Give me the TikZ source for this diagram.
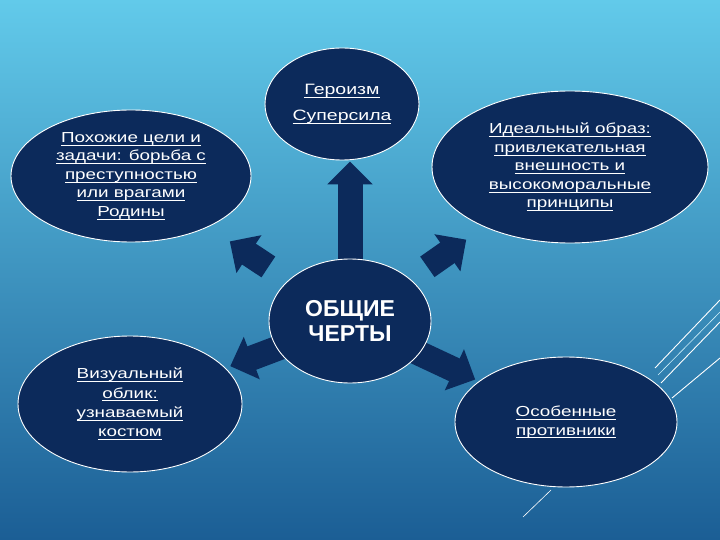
\documentclass[tikz,border=0pt]{standalone}
\usepackage{fontspec}
\setmainfont{Liberation Sans}[FakeStretch=1.3]
\newfontfamily\hubfont{Liberation Sans}
\newcommand\undl[1]{\leavevmode\setbox0\hbox{#1}\rlap{\vrule height -2.2pt depth 3.1pt width \wd0}\box0}
\usetikzlibrary{arrows.meta,shapes.geometric,positioning,backgrounds}
\usepackage{xcolor}
\definecolor{navy}{HTML}{0C2A5B}
\definecolor{skytop}{HTML}{62CAEA}
\definecolor{skymid}{HTML}{3595C8}
\definecolor{skylow}{HTML}{1B5E95}
\definecolor{glint}{HTML}{CFF1FB}
\pgfdeclarelayer{arrowlayer}
\pgfsetlayers{background,arrowlayer,main}
\tikzset{
  bubble/.style={ellipse,draw=white,line width=0.9pt,fill=navy,text=white,inner sep=0pt,align=center,font=\fontsize{14.5}{18.5}\selectfont},
  hub/.style={bubble,font=\hubfont\bfseries\fontsize{23}{25}\selectfont},
  push/.style={-{Triangle[width=44pt,length=23pt]},line width=25pt,draw=navy},
  streak/.style={draw=white,line width=0.9pt},
  every node/.style={text=white}
}

\begin{document}
\begin{tikzpicture}[x=1pt,y=-1pt]
\useasboundingbox (0,0) rectangle (720,540);
\begin{pgfonlayer}{background}
\shade[top color=skytop,middle color=skymid,bottom color=skylow] (0,0) rectangle (720,540);
% decorative streaks
\draw[streak] (655,368) -- (720,300);
\draw[streak,draw=glint,line width=0.6pt] (658,375) -- (720,312);
\draw[streak] (661,383) -- (720,322);
\draw[streak] (672,398) -- (720,358);
\draw[streak,line width=0.6pt] (523,517) -- (551,490);
\end{pgfonlayer}

\node[hub,minimum width=162pt,minimum height=124pt] (core) at (350,321) {ОБЩИЕ\\ЧЕРТЫ};
\node[bubble,minimum width=154pt,minimum height=112pt,font=\fontsize{15}{26}\selectfont] (hero) at (342,104) {\undl{Героизм}\\\undl{Суперсила}};
\node[bubble,minimum width=240pt,minimum height=132pt] (goals) at (131,176) {\undl{Похожие цели и}\\\undl{задачи: борьба с}\\\undl{преступностью}\\\undl{или врагами}\\\undl{Родины}};
\node[bubble,minimum width=276pt,minimum height=152pt] (ideal) at (570,167) {\undl{Идеальный образ:}\\\undl{привлекательная}\\\undl{внешность и}\\\undl{высокоморальные}\\\undl{принципы}};
\node[bubble,minimum width=224pt,minimum height=136pt,font=\fontsize{14.5}{19.3}\selectfont] (look) at (130,404) {\undl{Визуальный}\\\undl{облик:}\\\undl{узнаваемый}\\\undl{костюм}};
\node[bubble,minimum width=222pt,minimum height=130pt] (foes) at (566,422) {\undl{Особенные}\\\undl{противники}};

\begin{pgfonlayer}{arrowlayer}
\draw[push,shorten >=1pt] (core.north) -- (core.north |- hero.south);
\draw[push,shorten <=24pt,shorten >=26pt] (core) -- (goals);
\draw[push,shorten <=21pt,shorten >=22pt] (core) -- (ideal);
\draw[push,shorten <=-12pt,shorten >=5pt] (core) -- (look);
\draw[push,shorten <=-12pt,shorten >=4pt] (core) -- (foes);
\end{pgfonlayer}
\end{tikzpicture}
\end{document}
